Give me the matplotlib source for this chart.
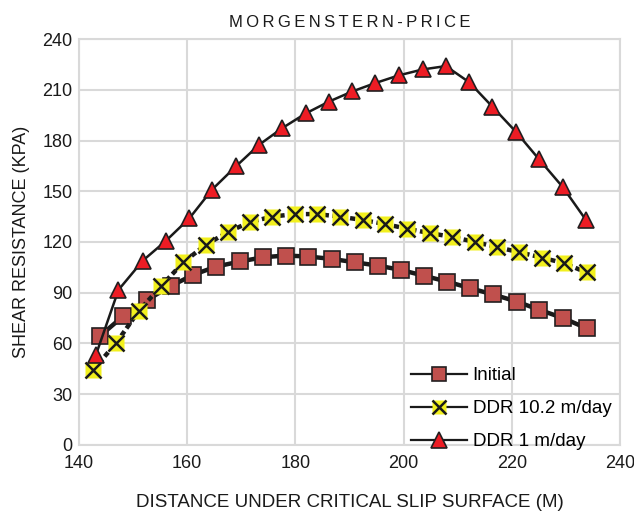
import numpy as np
import matplotlib.pyplot as plt

plt.rcParams['font.family'] = ['Liberation Sans', 'DejaVu Sans']

# Initial
x_init = [143.9, 148.1, 152.6, 157.0, 161.1, 165.4, 169.8, 174.1, 178.2, 182.4, 186.7,
          191.0, 195.3, 199.5, 203.8, 208.0, 212.3, 216.5, 220.9, 225.1, 229.5, 233.8]
y_init = [64.5, 76.0, 85.8, 94.0, 100.6, 105.5, 108.5, 111.0, 112.0, 111.4, 110.0,
          108.0, 106.0, 103.5, 100.0, 96.6, 92.7, 89.0, 84.8, 79.9, 75.0, 69.0]

# DDR 10.2 m/day
x_ddr10 = [142.6, 146.8, 151.0, 155.2, 159.3, 163.4, 167.6, 171.6, 175.7, 179.9, 184.0, 188.2,
           192.4, 196.6, 200.7, 204.9, 209.0, 213.2, 217.2, 221.3, 225.5, 229.6, 233.8]
y_ddr10 = [44.4, 60.0, 79.0, 94.0, 108.0, 118.3, 126.0, 131.8, 135.0, 136.5, 136.5, 135.0,
           133.0, 130.6, 127.8, 125.2, 123.0, 120.0, 117.0, 114.0, 110.8, 107.5, 102.0]

# DDR 1 m/day
x_ddr1 = [143.1, 147.3, 151.8, 156.0, 160.4, 164.6, 169.0, 173.3, 177.6, 181.9, 186.2,
          190.5, 194.8, 199.1, 203.5, 207.8, 212.1, 216.4, 220.8, 225.0, 229.4, 233.7]
y_ddr1 = [53.0, 91.7, 109.0, 120.5, 134.0, 151.0, 164.7, 177.5, 187.4, 196.0, 203.0,
          209.0, 214.0, 218.5, 222.0, 224.0, 214.5, 200.0, 185.0, 169.0, 152.5, 133.0]

fig = plt.figure(figsize=(6.34, 5.12), dpi=100)
ax = fig.add_axes([0.1246, 0.1309, 0.8534, 0.7929])

txt_c = '#1a1a1a'
grid_c = '#D9D9D9'
ax.set_xlim(140, 240)
ax.set_ylim(0, 240)
ax.set_xticks(np.arange(140, 241, 20))
ax.set_yticks(np.arange(0, 241, 30))
ax.grid(True, color=grid_c, lw=1.5)
ax.set_axisbelow(True)
for s in ax.spines.values():
    s.set_color(grid_c)
    s.set_linewidth(1.5)
ax.tick_params(length=0, labelsize=13, colors=txt_c)
ax.tick_params(axis='x', pad=7)
ax.tick_params(axis='y', pad=4.5)

l_init, = ax.plot(x_init, y_init, '-', color=txt_c, lw=3.2, marker='s', ms=11,
                  mfc='#C0504D', mec='#231f20', mew=1.2, zorder=3)
l_d10, = ax.plot(x_ddr10, y_ddr10, color=txt_c, lw=3.2, ls=(0, (1.2, 0.8)),
                 marker='s', ms=11, mfc='#F2F01E', mec='none', zorder=4)
m_d10, = ax.plot(x_ddr10, y_ddr10, ls='none', marker='x', ms=11, mec=txt_c,
                 mew=1.8, zorder=5)
l_d1, = ax.plot(x_ddr1, y_ddr1, '-', color=txt_c, lw=1.8, marker='^', ms=12,
                mfc='#ED1C24', mec='#231f20', mew=1.2, zorder=6)

# legend handles (thin lines, slightly smaller markers)
h_init, = ax.plot([], [], '-', color=txt_c, lw=1.6, marker='s', ms=10,
                  mfc='#C0504D', mec='#231f20', mew=1.2)
h_d10a, = ax.plot([], [], '-', color=txt_c, lw=1.6, marker='s', ms=10,
                  mfc='#F2F01E', mec='none')
h_d10b, = ax.plot([], [], ls='none', marker='x', ms=10, mec=txt_c, mew=1.8)
h_d1, = ax.plot([], [], '-', color=txt_c, lw=1.6, marker='^', ms=11,
                mfc='#ED1C24', mec='#231f20', mew=1.2)

ax.legend([h_init, (h_d10a, h_d10b), h_d1],
          ['Initial', 'DDR 10.2 m/day', 'DDR 1 m/day'],
          loc='upper left', bbox_to_anchor=(0.613, 0.192), frameon=False,
          borderpad=0, borderaxespad=0,
          fontsize=13.5, handlelength=3.0, handletextpad=0.3, labelspacing=0.85)

ax.set_title('\u2009'.join('MORGENSTERN-PRICE'), fontsize=12, color=txt_c, pad=8.5)
ax.set_ylabel('SHEAR RESISTANCE (KPA)', fontsize=13, color=txt_c, labelpad=9)
ax.set_xlabel('DISTANCE UNDER CRITICAL SLIP SURFACE (M)', fontsize=13.5, color=txt_c,
              labelpad=16)

fig.savefig('out.png', dpi=100)
